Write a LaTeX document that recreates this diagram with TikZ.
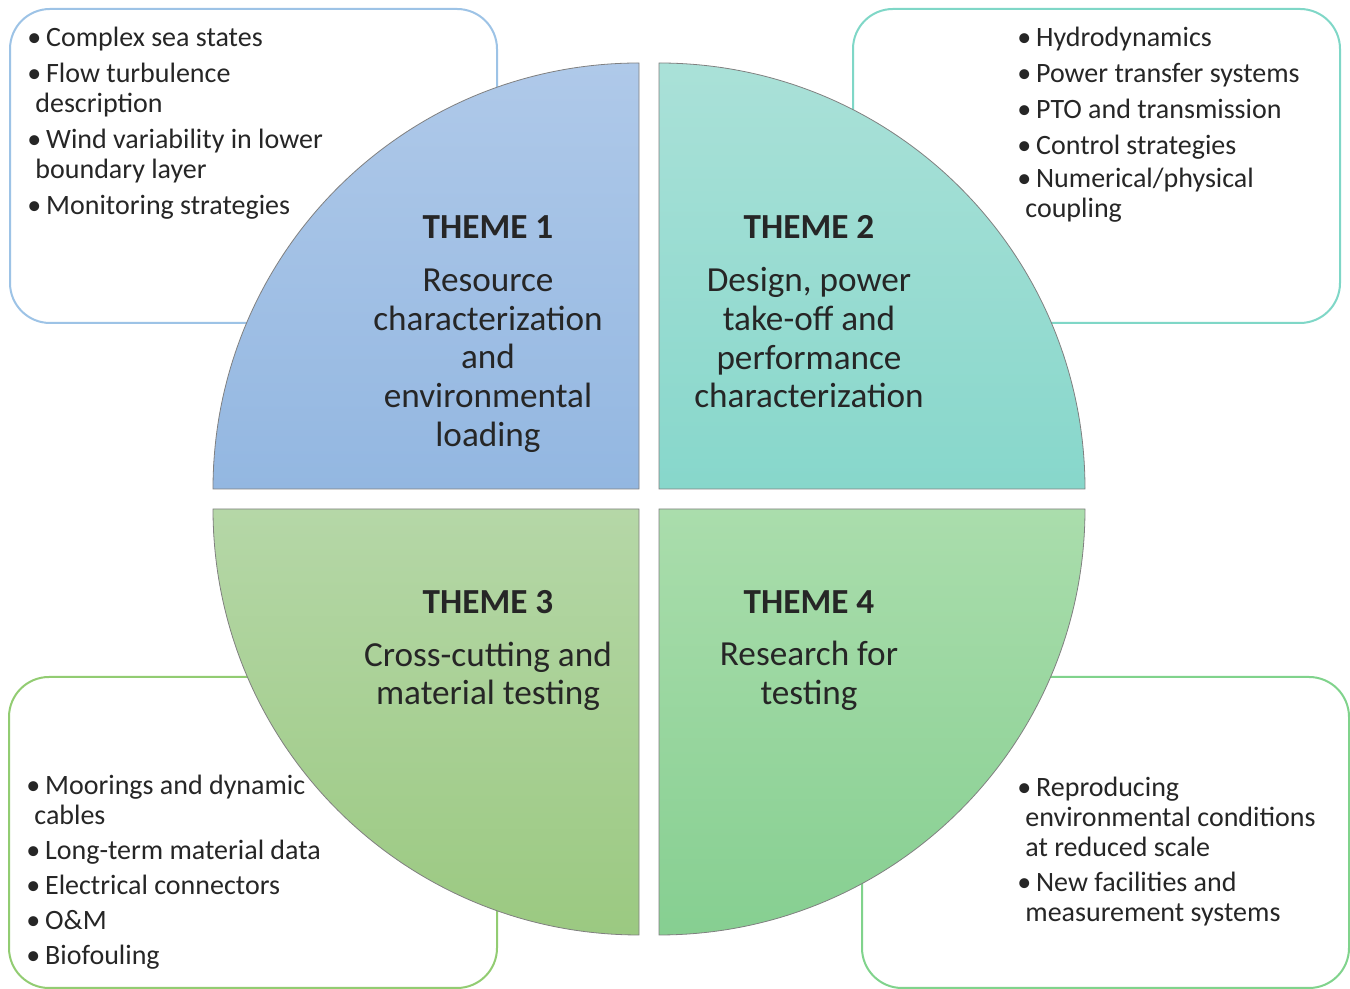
\documentclass[tikz,border=0pt]{standalone}
\usepackage{fontspec}
\setmainfont{Carlito}
\usepackage{xcolor}
\usepackage{tikz}

\definecolor{blueTop}{HTML}{AFC9E9}
\definecolor{blueBot}{HTML}{93B7E1}
\definecolor{tealTop}{HTML}{AAE1D8}
\definecolor{tealBot}{HTML}{87D7CB}
\definecolor{oliveTop}{HTML}{B5D7A7}
\definecolor{oliveBot}{HTML}{9BC981}
\definecolor{greenTop}{HTML}{AADDAC}
\definecolor{greenBot}{HTML}{86CF91}
\definecolor{edgeBlue}{HTML}{9DC3E6}
\definecolor{edgeTeal}{HTML}{7FD7C7}
\definecolor{edgeOlive}{HTML}{92CC72}
\definecolor{edgeGreen}{HTML}{80D38C}
\definecolor{ink}{HTML}{262626}

\begin{document}
\begin{tikzpicture}[x=0.5pt,y=0.5pt]
				\tikzstyle{every node}=[inner sep=0pt, text=ink];
				\tikzstyle{listbox}=[rounded corners=20pt, line width=1pt, fill=white];
				\tikzstyle{quarter}=[draw=black!50, line width=0.4pt];
				\tikzstyle{themetext}=[anchor=north, align=center, font=\fontsize{17.6}{19.3}\selectfont];
				\tikzstyle{items}=[anchor=north west, align=left, font=\fontsize{14}{15}\selectfont];

				\useasboundingbox (0,0) rectangle (1350,989);

				%Boxes
				\draw[listbox, draw=edgeBlue] (10,980) rectangle (497,666);
				\draw[listbox, draw=edgeTeal] (853,980) rectangle (1340,666);
				\draw[listbox, draw=edgeOlive] (9,312) rectangle (497,1);
				\draw[listbox, draw=edgeGreen] (862,312) rectangle (1349,1);

				%Quarters
				\draw[quarter, top color=blueTop, bottom color=blueBot] (639,500) -- (213,500) arc[start angle=180, end angle=90, radius=426] -- cycle;
				\draw[quarter, top color=tealTop, bottom color=tealBot] (659,500) -- (659,926) arc[start angle=90, end angle=0, radius=426] -- cycle;
				\draw[quarter, top color=oliveTop, bottom color=oliveBot] (639,480) -- (213,480) arc[start angle=180, end angle=270, radius=426] -- cycle;
				\draw[quarter, top color=greenTop, bottom color=greenBot] (659,480) -- (1085,480) arc[start angle=0, end angle=-90, radius=426] -- cycle;

				%Themes
				\node[themetext] (theme1) at (488,774) {\textbf{THEME 1}\\[7.4pt] Resource\\characterization\\and\\environmental\\loading};
				\node[themetext] (theme2) at (809,774) {\textbf{THEME 2}\\[7.4pt] Design, power\\take-off and\\performance\\characterization};
				\node[themetext] (theme3) at (488,399) {\textbf{THEME 3}\\[7pt] Cross-cutting and\\material testing};
				\node[themetext] (theme4) at (809,399) {\textbf{THEME 4}\\[7pt] Research for\\testing};

				%Lists
				\node[items] (list1) at (27,962) {\textbullet\hspace{2.4pt}Complex sea states\\[3pt]
					\textbullet\hspace{2.4pt}Flow turbulence\\\hspace{4pt}description\\[3pt]
					\textbullet\hspace{2.4pt}Wind variability in lower\\\hspace{4pt}boundary layer\\[3pt]
					\textbullet\hspace{2.4pt}Monitoring strategies};
				\node[items] (list2) at (1017,962) {\textbullet\hspace{2.4pt}Hydrodynamics\\[3pt]
					\textbullet\hspace{2.4pt}Power transfer systems\\[3pt]
					\textbullet\hspace{2.4pt}PTO and transmission\\[3pt]
					\textbullet\hspace{2.4pt}Control strategies\\[1.5pt]
					\textbullet\hspace{2.4pt}Numerical/physical\\\hspace{4pt}coupling};
				\node[items] (list3) at (26,214) {\textbullet\hspace{2.4pt}Moorings and dynamic\\\hspace{4pt}cables\\[2.5pt]
					\textbullet\hspace{2.4pt}Long-term material data\\[2.5pt]
					\textbullet\hspace{2.4pt}Electrical connectors\\[2.5pt]
					\textbullet\hspace{2.4pt}O\&M\\[2.5pt]
					\textbullet\hspace{2.4pt}Biofouling};
				\node[items] (list4) at (1017,212) {\textbullet\hspace{2.4pt}Reproducing\\\hspace{4pt}environmental conditions\\\hspace{4pt}at reduced scale\\[2.5pt]
					\textbullet\hspace{2.4pt}New facilities and\\\hspace{4pt}measurement systems};

			\end{tikzpicture}
\end{document}
